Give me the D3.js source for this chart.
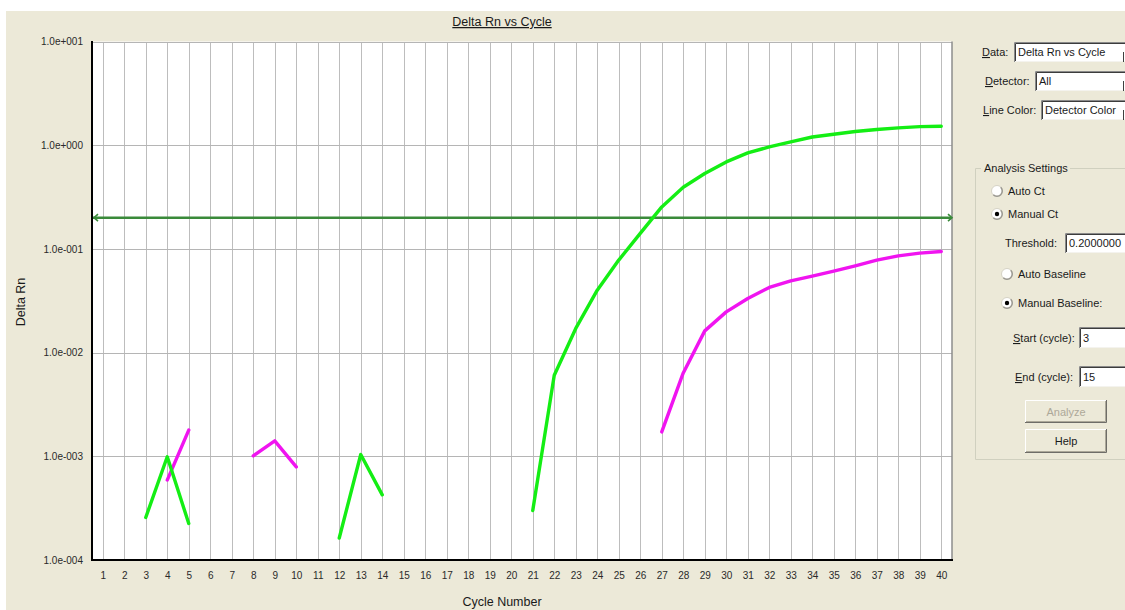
<!DOCTYPE html>
<html>
<head>
<meta charset="utf-8">
<script src="https://cdn.jsdelivr.net/npm/d3@7"></script>
<style>
  html, body { margin: 0; padding: 0; background: #fff; }
  svg { display: block; font-family: "Liberation Sans", Arial, sans-serif; }
</style>
</head>
<body>
<svg id="chart" width="1125" height="610"></svg>
<script>
// ---- data ----
const cycleTicks = d3.range(1, 41);
const decadeTicks = [1e-4, 1e-3, 1e-2, 1e-1, 1, 10];
const thresholdValue = 0.2;

const greenCycles = [3, 4, 5, 12, 13, 14, 21, 22, 23, 24, 25, 26, 27, 28, 29, 30,
                     31, 32, 33, 34, 35, 36, 37, 38, 39, 40];
const greenValues = [2.57e-4, 9.9e-4, 2.25e-4, 1.63e-4, 1.04e-3, 4.25e-4,
                     3.0e-4, 6.05e-3, 0.0171, 0.040, 0.078, 0.141, 0.254, 0.393,
                     0.533, 0.690, 0.843, 0.963, 1.076, 1.20, 1.276, 1.356,
                     1.417, 1.47, 1.51, 1.525];

const magentaCycles = [4, 5, 8, 9, 10, 27, 28, 29, 30, 31, 32, 33, 34, 35, 36,
                       37, 38, 39, 40];
const magentaValues = [5.9e-4, 1.79e-3, 1.01e-3, 1.41e-3, 7.9e-4, 1.72e-3,
                       6.37e-3, 0.0162, 0.0247, 0.0332, 0.0425, 0.0492, 0.0546,
                       0.061, 0.0686, 0.0778, 0.0857, 0.091, 0.0944];

// ---- layout ----
const W = 1125, H = 610;
const plot = { left: 92, right: 952, top: 41.5, bottom: 560 };
const svg = d3.select("#chart");

svg.append("rect").attr("width", W).attr("height", H).attr("fill", "#ffffff");
svg.append("rect").attr("x", 6).attr("y", 11).attr("width", W - 6).attr("height", H - 11)
  .attr("fill", "#ECE9D8");

const x = d3.scaleLinear().domain([0.5, 40.5]).range([plot.left, plot.right]);
const y = d3.scaleLog().domain([1e-4, 10]).range([plot.bottom, plot.top]);

// plot background
svg.append("rect")
  .attr("x", plot.left).attr("y", plot.top)
  .attr("width", plot.right - plot.left).attr("height", plot.bottom - plot.top)
  .attr("fill", "#ffffff");

// grid
svg.append("g")
  .attr("transform", `translate(0,${plot.bottom})`)
  .call(d3.axisBottom(x).tickValues(cycleTicks).tickSize(-(plot.bottom - plot.top)).tickFormat(""))
  .call(g => g.select(".domain").remove())
  .call(g => g.selectAll("line").attr("stroke", "#bdbdbd").attr("shape-rendering", "crispEdges"));

svg.append("g")
  .attr("transform", `translate(${plot.left},0)`)
  .call(d3.axisLeft(y).tickValues(decadeTicks).tickSize(-(plot.right - plot.left)).tickFormat(""))
  .call(g => g.select(".domain").remove())
  .call(g => g.selectAll("line").attr("stroke", "#b5b5b5").attr("shape-rendering", "crispEdges"));

// tick labels
const expFormat = d => {
  const e = Math.round(Math.log10(d));
  return "1.0e" + (e < 0 ? "-" : "+") + String(Math.abs(e)).padStart(3, "0");
};

svg.append("g")
  .attr("transform", `translate(${plot.left},0)`)
  .call(d3.axisLeft(y).tickValues(decadeTicks).tickSize(0).tickPadding(9).tickFormat(expFormat))
  .call(g => g.select(".domain").remove())
  .call(g => g.selectAll("text").attr("fill", "#2a2a2a").attr("font-size", "10px")
    .attr("font-family", "'Liberation Sans', Arial, sans-serif"));

svg.append("g")
  .attr("transform", `translate(0,${plot.bottom})`)
  .call(d3.axisBottom(x).tickValues(cycleTicks).tickSize(0).tickPadding(12).tickFormat(d3.format("d")))
  .call(g => g.select(".domain").remove())
  .call(g => g.selectAll("text").attr("fill", "#2a2a2a").attr("font-size", "10px")
    .attr("font-family", "'Liberation Sans', Arial, sans-serif"));

// frame
svg.append("line").attr("x1", plot.right).attr("x2", plot.right)
  .attr("y1", plot.top).attr("y2", plot.bottom + 1)
  .attr("stroke", "#8c8c8c").attr("stroke-width", 1.5);
svg.append("line").attr("x1", plot.left).attr("x2", plot.left)
  .attr("y1", plot.top - 0.5).attr("y2", plot.bottom + 1)
  .attr("stroke", "#000").attr("stroke-width", 2);
svg.append("line").attr("x1", plot.left - 1).attr("x2", plot.right + 1)
  .attr("y1", plot.bottom).attr("y2", plot.bottom)
  .attr("stroke", "#000").attr("stroke-width", 2);

// threshold line with end arrows
const ty = y(thresholdValue);
const thr = svg.append("g").attr("stroke", "#3a8a3a").attr("fill", "none");
thr.append("line").attr("x1", plot.left + 1).attr("x2", plot.right - 1)
  .attr("y1", ty).attr("y2", ty).attr("stroke-width", 2.5);
thr.append("path")
  .attr("d", `M${plot.left + 6},${ty - 3.5} L${plot.left + 2},${ty} L${plot.left + 6},${ty + 3.5}`)
  .attr("stroke-width", 1.6);
thr.append("path")
  .attr("d", `M${plot.right - 4},${ty - 3.5} L${plot.right},${ty} L${plot.right - 4},${ty + 3.5}`)
  .attr("stroke-width", 1.6);

// amplification curves (gaps where cycles are not consecutive)
function seriesPoints(cs, vs) {
  return cycleTicks.map(c => {
    const i = cs.indexOf(c);
    return { c, v: i >= 0 ? vs[i] : null };
  });
}
const line = d3.line()
  .defined(d => d.v != null)
  .x(d => x(d.c))
  .y(d => y(d.v));

svg.append("path")
  .datum(seriesPoints(magentaCycles, magentaValues))
  .attr("d", line)
  .attr("fill", "none").attr("stroke", "#f014f0").attr("stroke-width", 3.4)
  .attr("stroke-linejoin", "round").attr("stroke-linecap", "round");

svg.append("path")
  .datum(seriesPoints(greenCycles, greenValues))
  .attr("d", line)
  .attr("fill", "none").attr("stroke", "#14ee14").attr("stroke-width", 3.4)
  .attr("stroke-linejoin", "round").attr("stroke-linecap", "round");

// titles
svg.append("text").attr("x", 502).attr("y", 26).attr("text-anchor", "middle")
  .attr("font-size", "12.5px").attr("fill", "#1a1a1a")
  .attr("text-decoration", "underline").text("Delta Rn vs Cycle");
svg.append("text").attr("x", 502).attr("y", 606).attr("text-anchor", "middle")
  .attr("font-size", "12.5px").attr("fill", "#1a1a1a").text("Cycle Number");
svg.append("text").attr("transform", "translate(25,302) rotate(-90)")
  .attr("text-anchor", "middle").attr("font-size", "12.5px").attr("fill", "#1a1a1a")
  .text("Delta Rn");

// ---- settings panel ----
const ui = svg.append("g").attr("font-size", "11px").attr("fill", "#1a1a1a");

function label(xp, yp, first, rest, color) {
  const t = ui.append("text").attr("x", xp).attr("y", yp).attr("fill", color || "#1a1a1a");
  if (first) t.append("tspan").attr("text-decoration", "underline").text(first);
  t.append("tspan").text(rest);
  return t;
}

function sunkenBox(x0, y0, x1, y1, value) {
  const g = ui.append("g");
  g.append("rect").attr("x", x0).attr("y", y0).attr("width", x1 - x0).attr("height", y1 - y0)
    .attr("fill", "#ffffff");
  g.append("path").attr("d", `M${x0 + 0.5},${y1} V${y0 + 0.5} H${x1}`)
    .attr("stroke", "#8a8a8a").attr("fill", "none");
  g.append("path").attr("d", `M${x0 + 1.5},${y1 - 1} V${y0 + 1.5} H${x1}`)
    .attr("stroke", "#3c3c3c").attr("fill", "none");
  g.append("path").attr("d", `M${x0 + 1},${y1 - 0.5} H${x1}`)
    .attr("stroke", "#f4f3ee").attr("fill", "none");
  g.append("text").attr("x", x0 + 4).attr("y", (y0 + y1) / 2 + 4).text(value);
  return g;
}

function dropArrowEdge(y0, y1) {
  ui.append("line").attr("x1", 1123.5).attr("x2", 1123.5)
    .attr("y1", (y0 + y1) / 2).attr("y2", y1)
    .attr("stroke", "#404040").attr("stroke-width", 1);
}

function radio(cx, cy, checked) {
  const g = ui.append("g");
  g.append("circle").attr("cx", cx).attr("cy", cy).attr("r", 5.5)
    .attr("fill", "#ffffff").attr("stroke", "#d6d3c6");
  g.append("path")
    .attr("d", d3.arc()({ innerRadius: 4.5, outerRadius: 6, startAngle: -Math.PI * 1.75, endAngle: -Math.PI * 0.75 }))
    .attr("transform", `translate(${cx},${cy})`)
    .attr("fill", "#9a9890");
  if (checked) {
    g.append("circle").attr("cx", cx).attr("cy", cy).attr("r", 2.2).attr("fill", "#000");
  }
}

function button(x0, y0, x1, y1, txt, disabled) {
  const g = ui.append("g");
  g.append("rect").attr("x", x0).attr("y", y0).attr("width", x1 - x0).attr("height", y1 - y0)
    .attr("fill", "#ECE9D8");
  g.append("path").attr("d", `M${x0 + 0.5},${y1} V${y0 + 0.5} H${x1}`)
    .attr("stroke", "#ffffff").attr("fill", "none");
  g.append("path").attr("d", `M${x0},${y1 - 0.5} H${x1 - 0.5} V${y0}`)
    .attr("stroke", "#6e6d68").attr("fill", "none");
  g.append("path").attr("d", `M${x0 + 1},${y1 - 1.5} H${x1 - 1.5} V${y0 + 1}`)
    .attr("stroke", "#aca899").attr("fill", "none");
  g.append("text").attr("x", (x0 + x1) / 2).attr("y", (y0 + y1) / 2 + 4)
    .attr("text-anchor", "middle").attr("fill", disabled ? "#aca899" : "#1a1a1a").text(txt);
}

label(982, 56, "D", "ata:");
sunkenBox(1014, 42, 1125, 62, "Delta Rn vs Cycle");
dropArrowEdge(42, 62);

label(985, 85, "D", "etector:");
sunkenBox(1035, 71, 1125, 91, "All");
dropArrowEdge(71, 91);

label(983, 114, "L", "ine Color:");
sunkenBox(1041, 100, 1125, 120, "Detector Color");
dropArrowEdge(100, 120);

// group box
ui.append("path").attr("d", "M1125,168.5 H975.5 V459.5 H1125")
  .attr("stroke", "#d0d0bf").attr("fill", "none");
ui.append("rect").attr("x", 981).attr("y", 160).attr("width", 89).attr("height", 14)
  .attr("fill", "#ECE9D8");
label(984, 172, null, "Analysis Settings");

radio(997, 191, false);
label(1008, 195, null, "Auto Ct");
radio(997, 214, true);
label(1008, 218, null, "Manual Ct");

label(1005, 247, null, "Threshold:");
sunkenBox(1065, 233, 1125, 253, "0.2000000");

radio(1007, 274, false);
label(1018, 278, null, "Auto Baseline");
radio(1007, 303, true);
label(1018, 307, null, "Manual Baseline:");

label(1013, 342, "S", "tart (cycle):");
sunkenBox(1079, 327, 1125, 348, "3");
label(1015, 381, "E", "nd (cycle):");
sunkenBox(1079, 366, 1125, 387, "15");

button(1025, 400, 1107, 423, "Analyze", true);
button(1025, 429, 1107, 453, "Help", false);
</script>
</body>
</html>
